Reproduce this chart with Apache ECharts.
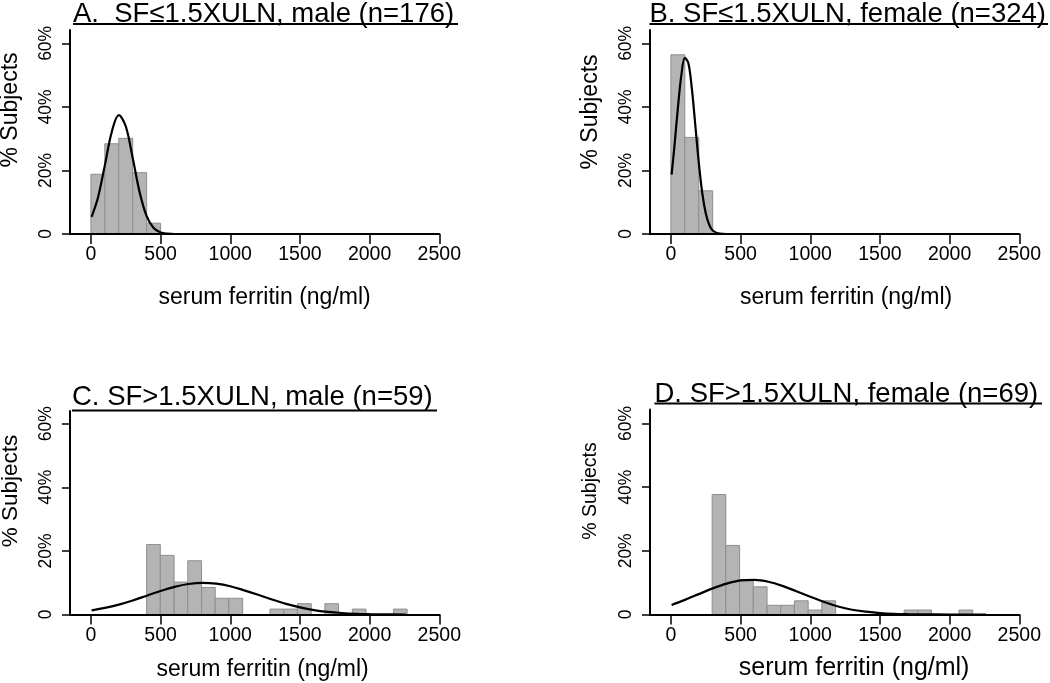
<!DOCTYPE html>
<html>
<head>
<meta charset="utf-8">
<script src="https://cdn.jsdelivr.net/npm/echarts@6/dist/echarts.min.js"></script>
<style>
  html, body { margin: 0; padding: 0; background: #fff; }
  #chart { width: 1050px; height: 683px; }
</style>
</head>
<body>
<div id="chart"></div>
<script>
// ---------------- data ----------------
const xTicks = [0, 500, 1000, 1500, 2000, 2500];
const yTicks = [0, 20, 40, 60];

const titles = [
  'A.  SF\u22641.5XULN, male (n=176)',
  'B. SF\u22641.5XULN, female (n=324)',
  'C. SF>1.5XULN, male (n=59)',
  'D. SF>1.5XULN, female (n=69)'
];

// Histogram bin edges (ng/ml) and bar heights (% subjects)
const edgesA = [0, 100, 200, 300, 400, 500];
const pctA   = [18.8, 28.4, 30.1, 19.3, 3.4];

const edgesB = [0, 100, 200, 300];
const pctB   = [56.4, 30.4, 13.6];

const edgesC = [400, 498, 597, 695, 794, 892, 990, 1089, 1187, 1285, 1384, 1482, 1581, 1679, 1777, 1876, 1974, 2073, 2171, 2269];
const pctC   = [22.0, 18.6, 10.2, 16.9, 8.5, 5.1, 5.1, 0, 0, 1.7, 1.7, 3.4, 0, 3.4, 0, 1.7, 0, 0, 1.7];

const edgesD = [296, 394, 493, 591, 690, 788, 886, 985, 1083, 1182, 1280, 1378, 1477, 1575, 1674, 1772, 1870, 1969, 2067, 2166, 2264];
const pctD   = [37.7, 21.7, 11.0, 8.7, 2.9, 2.9, 4.3, 1.4, 4.3, 0, 0, 0, 0, 0, 1.4, 1.4, 0, 0, 1.4, 0];

// Fitted-curve points
const curveAx = [5, 50, 100, 150, 200, 250, 300, 350, 400, 450, 500, 550, 600, 700, 1000, 1500, 2000, 2260];
const curveAy = [5.4, 11.3, 21.6, 32.2, 37.4, 33.9, 23.9, 13.1, 5.6, 1.9, 0.5, 0.1, 0, 0, 0, 0, 0, 0];

const curveBx = [5, 25, 50, 75, 100, 125, 150, 175, 200, 225, 250, 275, 300, 350, 400, 600, 1000, 1500, 2000, 2260];
const curveBy = [18.7, 27.5, 39.6, 50.0, 55.4, 53.8, 45.9, 34.3, 22.5, 12.9, 6.5, 2.9, 1.1, 0.1, 0, 0, 0, 0, 0, 0];

const curveCx = [5, 100, 200, 300, 400, 500, 600, 700, 800, 900, 1000, 1100, 1200, 1300, 1400, 1500, 1600, 1700, 1800, 1900, 2000, 2100, 2260];
const curveCy = [1.3, 2.06, 3.1, 4.4, 5.9, 7.4, 8.7, 9.6, 9.95, 9.7, 8.9, 7.6, 6.2, 4.7, 3.35, 2.25, 1.4, 0.84, 0.47, 0.24, 0.12, 0.05, 0];

const curveDx = [5, 100, 200, 300, 400, 500, 600, 700, 800, 900, 1000, 1100, 1200, 1300, 1400, 1500, 1600, 1700, 1800, 2000, 2260];
const curveDy = [3.0, 4.6, 6.4, 8.2, 9.7, 10.7, 10.9, 10.3, 9.0, 7.3, 5.6, 3.9, 2.5, 1.5, 0.9, 0.45, 0.2, 0.1, 0.04, 0, 0];

// ---------------- layout / style ----------------
const FONT = "'Liberation Sans', Arial, Helvetica, sans-serif";
const panels = [
  { left: 70,  top: 30,    h: 204,   ymax: 64.2, edges: edgesA, pct: pctA, cx: curveAx, cy: curveAy,
    nameGap: 52, namePad: 20, nameSize: 23,
    tx: 73,    ty: 14,  ux2: 458,  uy: 24,
    yname: { x: 11, y: 110, size: 23 } },
  { left: 650, top: 30,    h: 204,   ymax: 64.2, edges: edgesB, pct: pctB, cx: curveBx, cy: curveBy,
    nameGap: 52, namePad: 23, nameSize: 23,
    tx: 649.5, ty: 14,  ux2: 1048, uy: 24,
    yname: { x: 591, y: 112, size: 23 } },
  { left: 70,  top: 411,   h: 203.5, ymax: 64.0, edges: edgesC, pct: pctC, cx: curveCx, cy: curveCy,
    nameGap: 44, namePad: 16, nameSize: 23,
    tx: 72,    ty: 397, ux2: 437,  uy: 410.5,
    yname: { x: 11, y: 491, size: 22.5 } },
  { left: 650, top: 409.5, h: 205,   ymax: 64.4, edges: edgesD, pct: pctD, cx: curveDx, cy: curveDy,
    nameGap: 41, namePad: 39, nameSize: 25,
    tx: 654.5, ty: 394, ux2: 1042, uy: 403.5,
    yname: { x: 591, y: 491, size: 19.5 } }
];
const GRID_W = 369.3;

const grids = [], xAxes = [], yAxes = [], series = [], graphics = [];

panels.forEach((p, i) => {
  grids.push({ left: p.left, top: p.top, width: GRID_W, height: p.h, containLabel: false });

  xAxes.push({
    gridIndex: i, type: 'value', min: -150, max: 2500, z: 10,
    name: 'serum ferritin (ng/ml)', nameLocation: 'middle', nameGap: p.nameGap,
    nameTextStyle: { fontFamily: FONT, fontSize: p.nameSize, color: '#000', padding: [0, 0, 0, p.namePad] },
    axisLine: { show: true, onZero: false, lineStyle: { color: '#000', width: 2 } },
    axisTick: { show: true, customValues: xTicks, length: 10, lineStyle: { color: '#000', width: 1.5 } },
    axisLabel: {
      show: true, customValues: xTicks, margin: 11, fontFamily: FONT, fontSize: 19.5, color: '#000',
      formatter: v => String(v)
    },
    splitLine: { show: false }
  });

  yAxes.push({
    gridIndex: i, type: 'value', min: 0, max: p.ymax, z: 10,
    axisLine: { show: true, onZero: false, lineStyle: { color: '#000', width: 2 } },
    axisTick: { show: true, customValues: yTicks, length: 8, lineStyle: { color: '#000', width: 1.5 } },
    axisLabel: {
      show: true, customValues: yTicks, rotate: 90, margin: 15,
      fontFamily: "'Liberation Sans Narrow', 'Liberation Sans', Arial, sans-serif", fontSize: 17.5, color: '#000',
      formatter: v => (v === 0 ? '0' : v + '%')
    },
    splitLine: { show: false }
  });

  const bins = p.pct.map((v, k) => [p.edges[k], p.edges[k + 1], v]);
  series.push({
    type: 'custom', xAxisIndex: i, yAxisIndex: i, z: 2,
    data: bins,
    encode: { x: [0, 1], y: 2 },
    renderItem: (params, api) => {
      const h = api.value(2);
      if (!(h > 0)) return null;
      const a = api.coord([api.value(0), 0]);
      const b = api.coord([api.value(1), h]);
      return {
        type: 'rect',
        shape: { x: a[0], y: b[1], width: b[0] - a[0], height: a[1] - b[1] },
        style: { fill: '#b4b4b4', stroke: '#8e8e8e', lineWidth: 1 }
      };
    }
  });

  series.push({
    type: 'line', xAxisIndex: i, yAxisIndex: i, z: 5,
    data: p.cx.map((x, k) => [x, p.cy[k]]),
    smooth: 0.35, symbol: 'none', showSymbol: false,
    lineStyle: { color: '#000', width: 2.2 }
  });

  // panel title + underline
  graphics.push({
    type: 'text', x: p.tx, y: p.ty,
    style: { text: titles[i], font: '27.5px ' + FONT, fill: '#000', textAlign: 'left', textVerticalAlign: 'middle' }
  });
  graphics.push({
    type: 'line', shape: { x1: p.tx, y1: p.uy, x2: p.ux2, y2: p.uy },
    style: { stroke: '#000', lineWidth: 2 }
  });
  // y-axis title
  graphics.push({
    type: 'text', x: p.yname.x, y: p.yname.y, rotation: Math.PI / 2,
    style: { text: '% Subjects', font: p.yname.size + 'px ' + FONT, fill: '#000', textAlign: 'center', textVerticalAlign: 'middle' }
  });
});

const chart = echarts.init(document.getElementById('chart'), null, { renderer: 'canvas' });
chart.setOption({
  animation: false,
  backgroundColor: '#ffffff',
  grid: grids,
  xAxis: xAxes,
  yAxis: yAxes,
  series: series,
  graphic: graphics
});
</script>
</body>
</html>
